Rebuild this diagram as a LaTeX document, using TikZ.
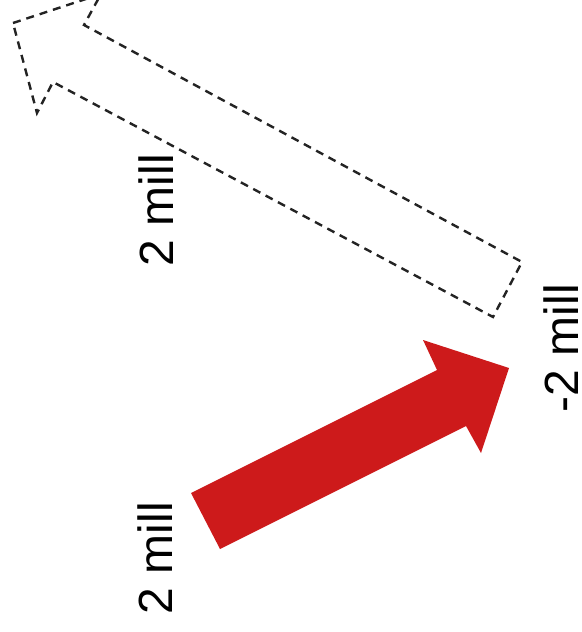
\documentclass[tikz,border=0pt]{standalone}
\usepackage{fontspec}
\setmainfont{Liberation Sans}
\definecolor{arrowred}{RGB}{205,26,27}
\definecolor{dashgray}{RGB}{35,35,35}
\begin{document}
\begin{tikzpicture}[x=0.5pt,y=-0.5pt,
  lbl/.style={font=\fontsize{24}{28}\selectfont, rotate=90, inner sep=0pt, anchor=center},
  redarrow/.style={fill=arrowred, draw=none},
  dasharrow/.style={draw=dashgray, line width=1.2pt, dash pattern=on 4pt off 3pt, line join=miter}]
\useasboundingbox (0,0) rectangle (582,632);
\begin{scope}
\clip (0,0) rectangle (582,632);
% dashed (outlined) arrow pointing up-left
\draw[dasharrow] (13,23) -- (101,-6) -- (84,25) -- (522,262) -- (493,317) -- (53,82) -- (37,113) -- cycle;
\end{scope}
% red arrow pointing up-right
\fill[redarrow] (191,493) -- (437,370) -- (423,340) -- (509,368) -- (481,453) -- (466,426) -- (220,549) -- cycle;
% labels
\node[lbl] (ltop) at (156,210) {2 mill};
\node[lbl] (lbot) at (155,558) {2 mill};
\node[lbl] (lright) at (561,348) {-2 mill};
\end{tikzpicture}
\end{document}
